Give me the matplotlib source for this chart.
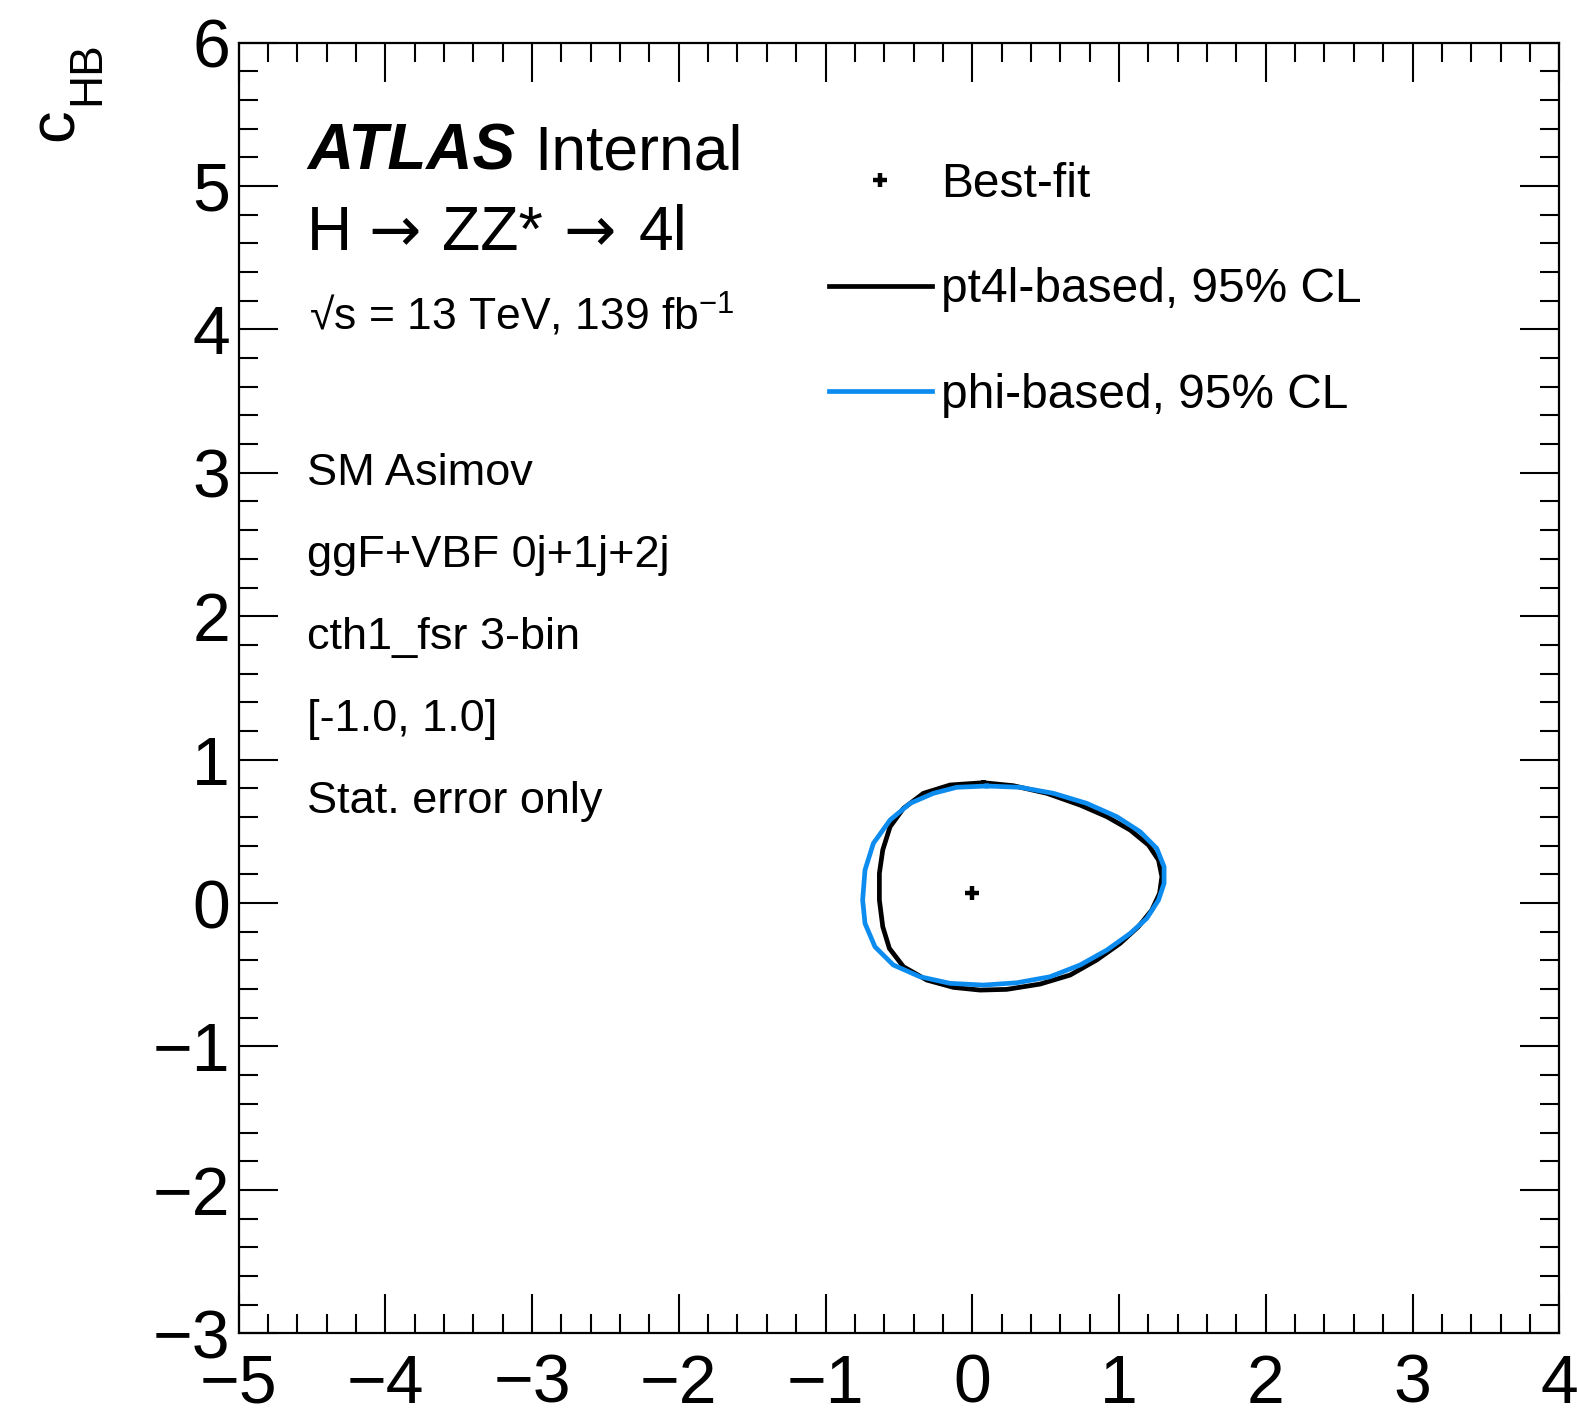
import matplotlib
matplotlib.use('Agg')
import matplotlib.pyplot as plt
from matplotlib.ticker import MultipleLocator

plt.rcParams['font.family'] = ['Liberation Sans', 'DejaVu Sans']
plt.rcParams['mathtext.fontset'] = 'custom'
plt.rcParams['mathtext.rm'] = 'Liberation Sans'
plt.rcParams['mathtext.it'] = 'Liberation Sans:italic'
plt.rcParams['mathtext.bf'] = 'Liberation Sans:bold'

# best-fit point
bf_x = [0.0]
bf_y = [0.07]

# 95% CL contour, pt4l-based
pt4l_x = [0.076, 0.280, 0.508, 0.735, 0.917, 1.076, 1.201, 1.269, 1.292, 1.276,
          1.223, 1.132, 1.008, 0.848, 0.667, 0.462, 0.235, 0.053, -0.129, -0.310,
          -0.469, -0.565, -0.610, -0.633, -0.633, -0.610, -0.560, -0.469, -0.333, -0.151]
pt4l_y = [0.839, 0.818, 0.765, 0.683, 0.602, 0.509, 0.404, 0.300, 0.184, 0.067,
          -0.049, -0.165, -0.281, -0.397, -0.502, -0.565, -0.602, -0.607, -0.588, -0.537,
          -0.444, -0.316, -0.165, 0.021, 0.207, 0.370, 0.532, 0.660, 0.765, 0.823]

# 95% CL contour, phi-based
phi_x = [0.099, 0.326, 0.553, 0.780, 0.985, 1.144, 1.257, 1.307, 1.307, 1.269,
         1.189, 1.076, 0.917, 0.735, 0.530, 0.303, 0.076, -0.151, -0.356, -0.538,
         -0.663, -0.731, -0.747, -0.731, -0.674, -0.560, -0.424, -0.265, -0.106]
phi_y = [0.816, 0.807, 0.765, 0.695, 0.602, 0.497, 0.381, 0.253, 0.137, 0.021,
         -0.107, -0.212, -0.328, -0.432, -0.514, -0.556, -0.572, -0.560, -0.514, -0.432,
         -0.305, -0.142, 0.021, 0.230, 0.416, 0.579, 0.695, 0.765, 0.807]

info_lines = ['SM Asimov', 'ggF+VBF 0j+1j+2j', 'cth1_fsr 3-bin', '[-1.0, 1.0]', 'Stat. error only']

blue = '#0d8cf0'
W, H = 1577, 1410

def fx(x):
    return x / W

def fy(y):
    return 1 - y / H

fig = plt.figure(figsize=(W / 100, H / 100), dpi=100)
ax = fig.add_axes([fx(238.5), fy(1333.3), (1559.3 - 238.5) / W, (1333.3 - 42.5) / H])

ax.plot(bf_x, bf_y, ls='none', marker='+', color='k', ms=10, mew=3.2, label='Best-fit')
ax.plot(pt4l_x + pt4l_x[:1], pt4l_y + pt4l_y[:1], color='k', lw=3.4,
        solid_joinstyle='round', label='pt4l-based, 95% CL')
ax.plot(phi_x + phi_x[:1], phi_y + phi_y[:1], color=blue, lw=3.4,
        solid_joinstyle='round', label='phi-based, 95% CL')

ax.set_xlim(-5, 4)
ax.set_ylim(-3, 6)
ax.xaxis.set_major_locator(MultipleLocator(1))
ax.xaxis.set_minor_locator(MultipleLocator(0.2))
ax.yaxis.set_major_locator(MultipleLocator(1))
ax.yaxis.set_minor_locator(MultipleLocator(0.2))
ax.tick_params(which='both', direction='in', top=True, right=True, width=1.5)
ax.tick_params(which='major', length=28, labelsize=49)
ax.tick_params(axis='x', which='major', pad=14)
ax.tick_params(axis='y', which='major', pad=6)
ax.tick_params(which='minor', length=14)
for s in ax.spines.values():
    s.set_linewidth(1.6)

# y-axis title c_HB, ROOT style at the top of the axis
fig.text(fx(73), fy(108), 'c', fontsize=47, rotation=90, rotation_mode='anchor',
         ha='right', va='baseline')
fig.text(fx(99), fy(41), 'HB', fontsize=33, rotation=90, rotation_mode='anchor',
         ha='right', va='baseline')

fig.text(fx(307), fy(169), 'ATLAS', fontsize=46, fontweight='bold', style='italic')
fig.text(fx(534), fy(169), 'Internal', fontsize=45)
# H -> ZZ* -> 4l, arrows in DejaVu Sans for a longer arrow like the ROOT symbol font
fig.text(fx(307), fy(250), 'H', fontsize=45)
fig.text(fx(368), fy(250), '\u2192', fontsize=45, family='DejaVu Sans')
fig.text(fx(442), fy(250), 'ZZ*', fontsize=45)
fig.text(fx(563), fy(250), '\u2192', fontsize=45, family='DejaVu Sans')
fig.text(fx(639), fy(250), '4l', fontsize=45)
fig.text(fx(309), fy(330), '\u221As = 13 TeV, 139 fb$^{-1}$', fontsize=32)
for i, line in enumerate(info_lines):
    fig.text(fx(307), fy(485 + 82 * i), line, fontsize=32.5)

ax.legend(loc='upper left', bbox_to_anchor=(fx(829), fy(162)), bbox_transform=fig.transFigure,
          frameon=False, fontsize=34.5, handlelength=2.14, handletextpad=0.2,
          labelspacing=1.26, borderaxespad=0, borderpad=0)

fig.savefig('out.png', dpi=100)
